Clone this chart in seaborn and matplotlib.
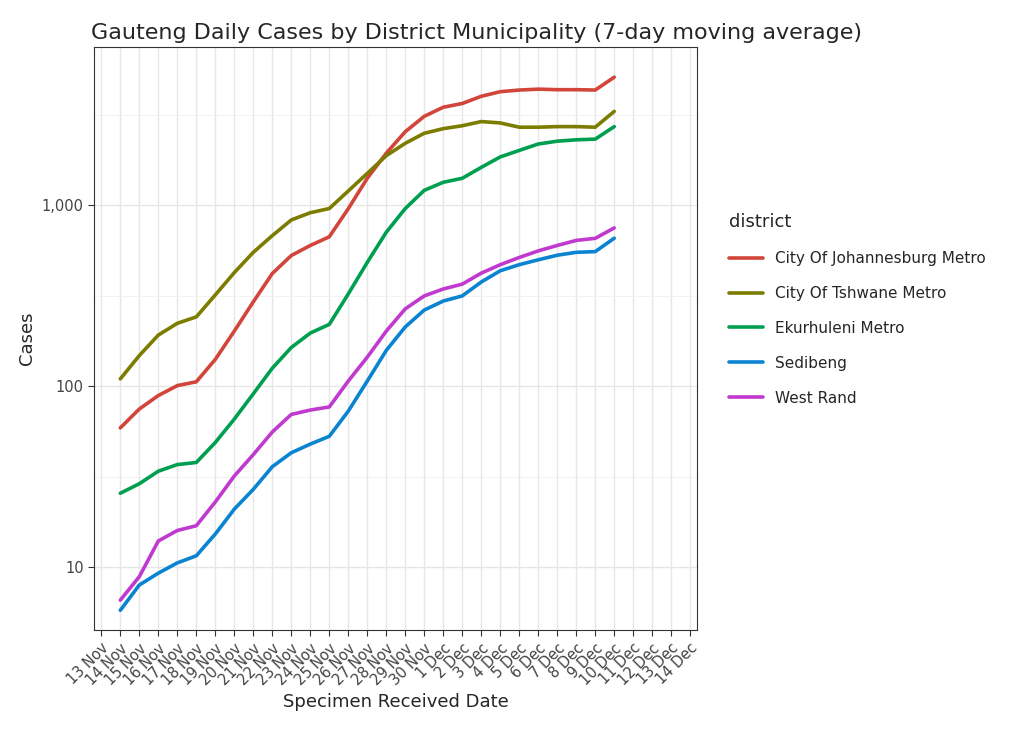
import pandas as pd
import numpy as np
import matplotlib.pyplot as plt
import matplotlib.dates as mdates
import matplotlib.ticker as mticker
import seaborn as sns

dates = pd.date_range("2021-11-14", "2021-12-10", freq="D")
districts = ["City Of Johannesburg Metro", "City Of Tshwane Metro", "Ekurhuleni Metro", "Sedibeng", "West Rand"]
joburg = [59, 75, 89, 101, 106, 141, 202, 293, 420, 528, 600, 670, 958, 1410, 1940, 2550, 3100,
          3480, 3650, 4000, 4240, 4330, 4380, 4350, 4350, 4330, 5100]
tshwane = [110, 148, 192, 223, 242, 320, 425, 550, 680, 830, 910, 960, 1200, 1500, 1880, 2200, 2500,
           2650, 2750, 2900, 2850, 2700, 2700, 2720, 2720, 2700, 3300]
ekurhuleni = [25.7, 29, 34, 37, 38, 49, 66, 91, 126, 164, 197, 220, 324, 484, 710, 960, 1210,
              1340, 1410, 1620, 1850, 2010, 2180, 2260, 2300, 2320, 2720]
sedibeng = [5.8, 8, 9.3, 10.6, 11.6, 15.3, 21, 27, 36, 43, 48, 53, 73, 107, 158, 213, 264,
            296, 316, 377, 435, 470, 500, 530, 550, 555, 658]
west_rand = [6.6, 8.9, 14, 16, 17, 23, 32, 42, 56, 70, 74, 77, 107, 145, 202, 268, 316,
             345, 367, 422, 470, 515, 560, 600, 640, 657, 750]
colors = ["#D2453A", "#7C7C00", "#009F50", "#0A84D0", "#C13AD0"]

df = pd.concat([pd.DataFrame({"date": dates, "district": d, "cases": v})
                for d, v in zip(districts, [joburg, tshwane, ekurhuleni, sedibeng, west_rand])])

sns.set_style("whitegrid", {"xtick.bottom": True, "ytick.left": True})
plt.rcParams['font.family'] = ['DejaVu Sans']
fig = plt.figure(figsize=(10.24, 7.32), dpi=100)
ax = fig.add_axes([0.092, 0.139, 0.589, 0.797])
sns.lineplot(data=df, x="date", y="cases", hue="district", palette=colors, lw=2.6, ax=ax)
ax.set_yscale("log")
ax.set_ylim(4.5, 7500)
ax.set_xlim(pd.Timestamp("2021-11-12 15:00"), pd.Timestamp("2021-12-14 09:00"))
ax.yaxis.set_major_locator(mticker.FixedLocator([10, 100, 1000]))
ax.yaxis.set_major_formatter(mticker.FuncFormatter(lambda v, p: f"{int(v):,}"))
ax.yaxis.set_minor_locator(mticker.FixedLocator([31.6, 316, 3162]))
ax.yaxis.set_minor_formatter(mticker.NullFormatter())
ticks = pd.date_range("2021-11-13", "2021-12-14", freq="D")
ax.set_xticks(ticks)
ax.set_xticklabels([f"{t.day} {t.strftime('%b')}" for t in ticks], rotation=45, ha="right",
                   rotation_mode="anchor", fontsize=10.5, color="#444444")
ax.tick_params(axis="y", labelsize=10.5, labelcolor="#444444")
ax.tick_params(axis="both", length=4, color="#333333", which="major")
ax.tick_params(axis="y", which="minor", length=0)
ax.grid(True, which="major", color="#E6E6E6", lw=1)
ax.grid(True, which="minor", axis="y", color="#F0F0F0", lw=0.6)
for s in ax.spines.values():
    s.set_color("#333333")
    s.set_linewidth(0.8)
ax.set_xlabel("Specimen Received Date", fontsize=13)
ax.set_ylabel("Cases", fontsize=13)
ax.set_title("Gauteng Daily Cases by District Municipality (7-day moving average)", fontsize=16, loc="left", x=-0.005)
ax.legend(title="district", loc="center left", bbox_to_anchor=(1.03, 0.55), frameon=False,
          fontsize=11, title_fontproperties={"size": 13}, handlelength=2.2, labelspacing=1.3,
          alignment="left")
fig.savefig("out.png", dpi=100)
